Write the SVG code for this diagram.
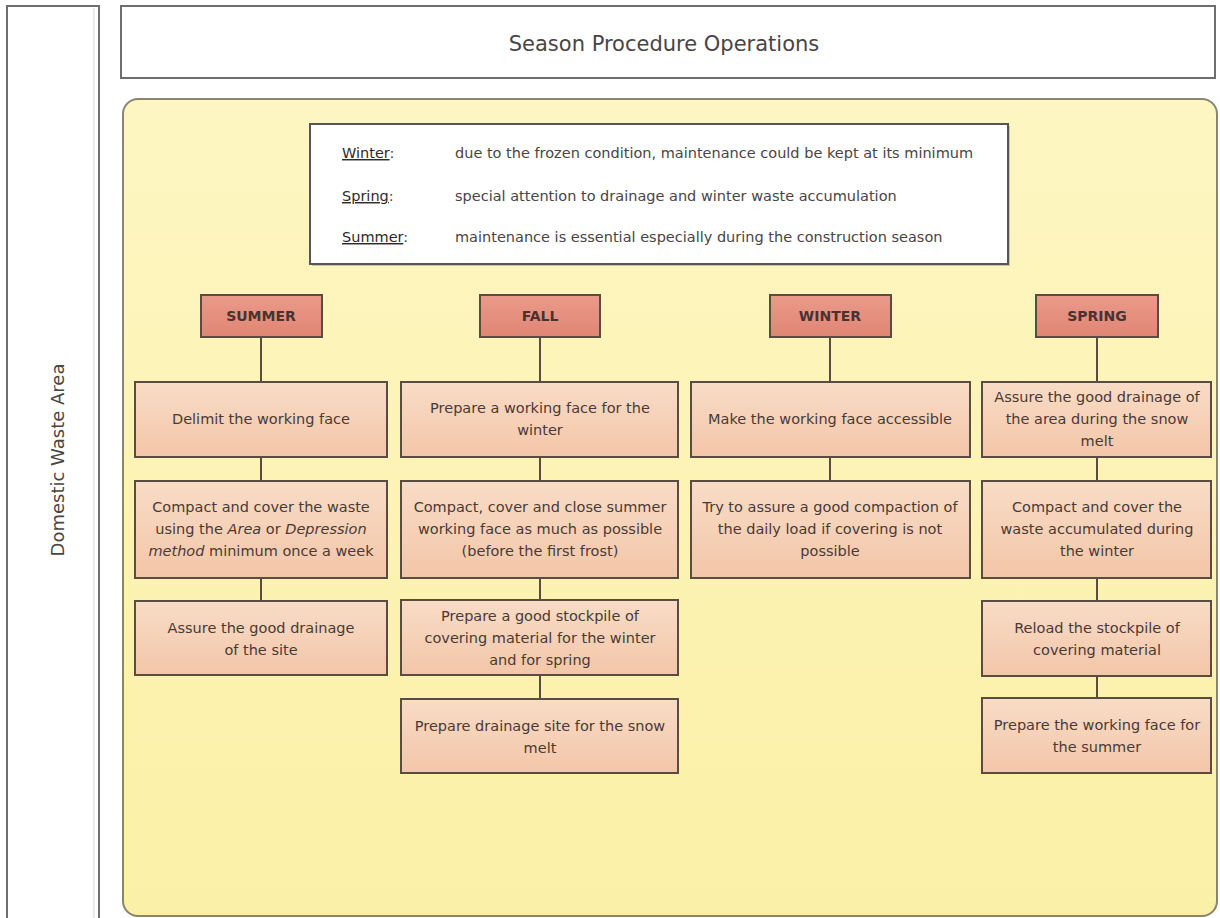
<svg xmlns="http://www.w3.org/2000/svg" width="1220" height="918" viewBox="0 0 1220 918">
<defs>
<linearGradient id="gy" x1="0" y1="0" x2="0" y2="1"><stop offset="0" stop-color="#fdf6c2"/><stop offset="1" stop-color="#fbf0a6"/></linearGradient>
<linearGradient id="gh" x1="0" y1="0" x2="0" y2="1"><stop offset="0" stop-color="#ea9a8a"/><stop offset="1" stop-color="#e08574"/></linearGradient>
<linearGradient id="gb" x1="0" y1="0" x2="0" y2="1"><stop offset="0" stop-color="#f8dcc6"/><stop offset="1" stop-color="#f3c6a8"/></linearGradient>
<style>
.frame{fill:#fff;stroke:#6e6e6e;stroke-width:2}
.head{fill:url(#gh);stroke:#5a4c40;stroke-width:2}
.box{fill:url(#gb);stroke:#5a4c40;stroke-width:2}
.t{font-family:"DejaVu Sans",sans-serif;font-size:14.5px;fill:#4a3a36;text-anchor:middle}
.h{font-family:"DejaVu Sans",sans-serif;font-size:14px;font-weight:bold;fill:#4a3230;text-anchor:middle}
.lg{font-family:"DejaVu Sans",sans-serif;font-size:14.5px;fill:#4a4444}
.lk{fill:#2e2a2a;text-decoration:underline}
.c{stroke:#5a4c40;stroke-width:2;fill:none}
</style>
</defs>
<rect width="1220" height="918" fill="#fff"/>
<g id="side">
<rect class="frame" x="7" y="6" width="92" height="920"/>
<line x1="94" y1="8" x2="94" y2="918" stroke="#e4e4e4" stroke-width="1.5"/>
<text transform="translate(64,460) rotate(-90)" font-family="DejaVu Sans,sans-serif" font-size="18" fill="#4a4444" text-anchor="middle">Domestic Waste Area</text>
</g>
<g id="title">
<rect class="frame" x="121" y="6" width="1094" height="72"/>
<text x="664" y="51" font-family="DejaVu Sans,sans-serif" font-size="21" fill="#4a4444" text-anchor="middle">Season Procedure Operations</text>
</g>
<g id="area">
<rect x="123" y="99" width="1094" height="817" rx="15" fill="url(#gy)" stroke="#8a8470" stroke-width="2"/>
</g>
<g id="legend">
<rect x="312" y="126" width="698" height="140" fill="#9a9a90" opacity="0.5"/>
<rect x="310" y="124" width="698" height="140" fill="#fff" stroke="#555" stroke-width="2"/>
<text class="lg" x="342" y="158"><tspan class="lk">Winter</tspan>:</text>
<text class="lg" x="455" y="158">due to the frozen condition, maintenance could be kept at its minimum</text>
<text class="lg" x="342" y="201"><tspan class="lk">Spring</tspan>:</text>
<text class="lg" x="455" y="201">special attention to drainage and winter waste accumulation</text>
<text class="lg" x="342" y="242"><tspan class="lk">Summer</tspan>:</text>
<text class="lg" x="455" y="242">maintenance  is essential especially during the construction season</text>
</g>
<g id="connectors">
<path class="c" d="M261 337V382M261 457V481M261 578V601"/>
<path class="c" d="M540 337V382M540 457V481M540 578V600M540 675V699"/>
<path class="c" d="M830 337V382M830 457V481"/>
<path class="c" d="M1097 337V382M1097 457V481M1097 578V601M1097 676V698"/>
</g>
<g id="summer">
<rect class="head" x="201" y="295" width="121" height="42"/>
<text class="h" x="261" y="321">SUMMER</text>
</g>
<g id="s1"><rect class="box" x="135" y="382" width="252" height="75"/><text class="t" x="261" y="424">Delimit the working face</text></g>
<g id="s2"><rect class="box" x="135" y="481" width="252" height="97"/>
<text class="t" x="261" y="512">Compact and cover the waste</text>
<text class="t" x="261" y="534">using the <tspan font-style="italic">Area</tspan> or <tspan font-style="italic">Depression</tspan></text>
<text class="t" x="261" y="556"><tspan font-style="italic">method</tspan> minimum once a week</text></g>
<g id="s3"><rect class="box" x="135" y="601" width="252" height="74"/>
<text class="t" x="261" y="633">Assure the good drainage</text>
<text class="t" x="261" y="655">of the site</text></g>

<g id="fall">
<rect class="head" x="480" y="295" width="120" height="42"/>
<text class="h" x="540" y="321">FALL</text>
</g>
<g id="f1"><rect class="box" x="401" y="382" width="277" height="75"/>
<text class="t" x="540" y="413">Prepare a working face for the</text>
<text class="t" x="540" y="435">winter</text></g>
<g id="f2"><rect class="box" x="401" y="481" width="277" height="97"/>
<text class="t" x="540" y="512">Compact, cover and close summer</text>
<text class="t" x="540" y="534">working face as much  as possible</text>
<text class="t" x="540" y="556">(before the first frost)</text></g>
<g id="f3"><rect class="box" x="401" y="600" width="277" height="75"/>
<text class="t" x="540" y="621">Prepare a good stockpile of</text>
<text class="t" x="540" y="643">covering material for the winter</text>
<text class="t" x="540" y="665">and for spring</text></g>
<g id="f4"><rect class="box" x="401" y="699" width="277" height="74"/>
<text class="t" x="540" y="731">Prepare drainage site for the snow</text>
<text class="t" x="540" y="753">melt</text></g>

<g id="winter">
<rect class="head" x="770" y="295" width="121" height="42"/>
<text class="h" x="830" y="321">WINTER</text>
</g>
<g id="w1"><rect class="box" x="691" y="382" width="279" height="75"/>
<text class="t" x="830" y="424">Make the working face accessible</text></g>
<g id="w2"><rect class="box" x="691" y="481" width="279" height="97"/>
<text class="t" x="830" y="512">Try to assure a good compaction of</text>
<text class="t" x="830" y="534">the daily load if covering is not</text>
<text class="t" x="830" y="556">possible</text></g>

<g id="spring">
<rect class="head" x="1036" y="295" width="122" height="42"/>
<text class="h" x="1097" y="321">SPRING</text>
</g>
<g id="p1"><rect class="box" x="982" y="382" width="229" height="75"/>
<text class="t" x="1097" y="402">Assure the good drainage of</text>
<text class="t" x="1097" y="424">the area during the snow</text>
<text class="t" x="1097" y="446">melt</text></g>
<g id="p2"><rect class="box" x="982" y="481" width="229" height="97"/>
<text class="t" x="1097" y="512">Compact and cover the</text>
<text class="t" x="1097" y="534">waste accumulated during</text>
<text class="t" x="1097" y="556">the winter</text></g>
<g id="p3"><rect class="box" x="982" y="601" width="229" height="75"/>
<text class="t" x="1097" y="633">Reload  the stockpile of</text>
<text class="t" x="1097" y="655">covering material</text></g>
<g id="p4"><rect class="box" x="982" y="698" width="229" height="75"/>
<text class="t" x="1097" y="730">Prepare the working face for</text>
<text class="t" x="1097" y="752">the summer</text></g>
</svg>
